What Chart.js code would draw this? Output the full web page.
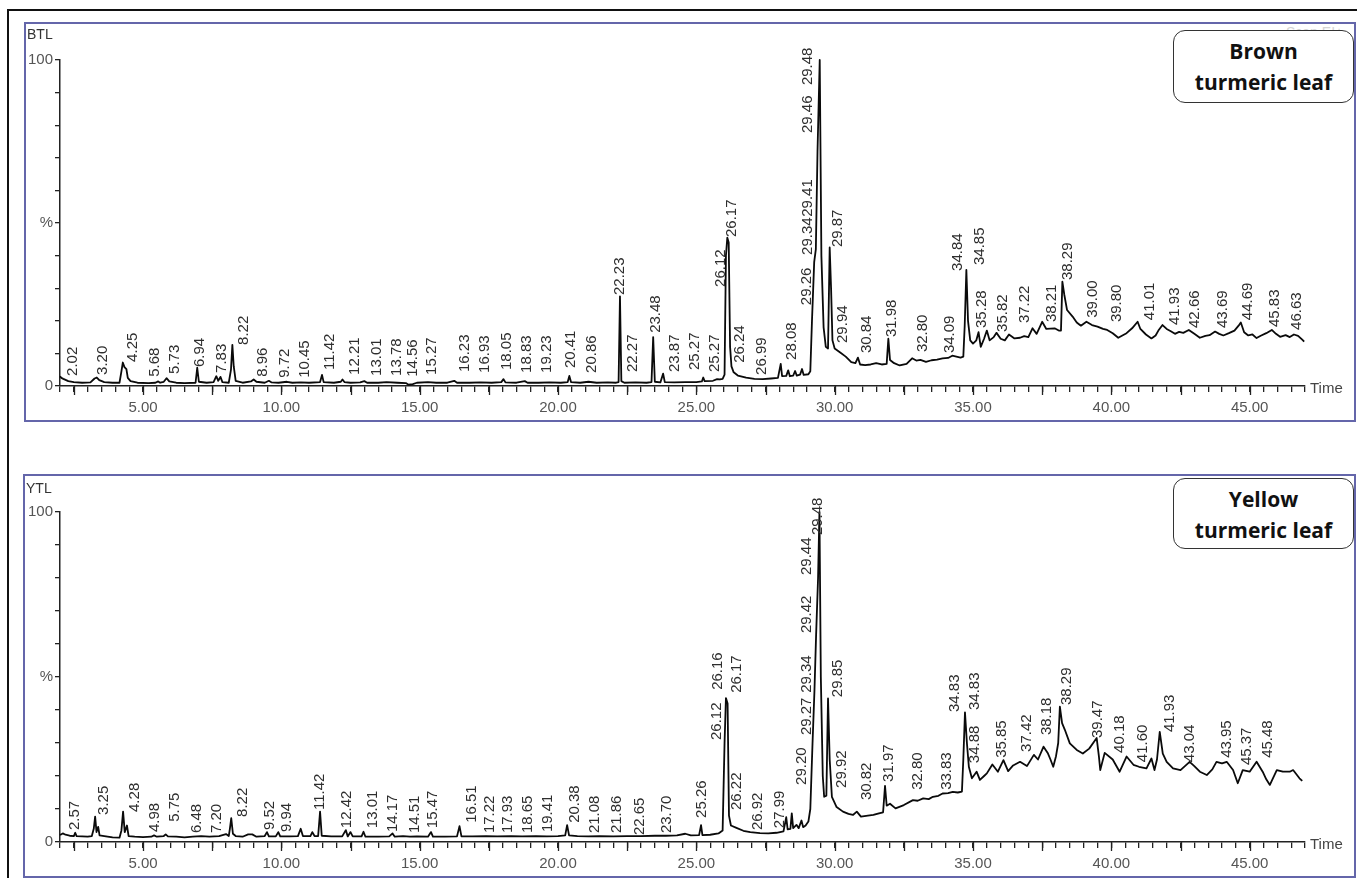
<!DOCTYPE html>
<html>
<head>
<meta charset="utf-8">
<script src="https://cdn.jsdelivr.net/npm/chart.js@4.4.1/dist/chart.umd.min.js"></script>
<style>
  html, body { margin:0; padding:0; background:#fff; }
  body { width:1357px; height:878px; position:relative; overflow:hidden; font-family:"Liberation Sans", Arial, sans-serif; }
  .frame { position:absolute; left:7px; top:9px; width:1400px; height:900px; border-left:2px solid #111; border-top:2px solid #111; }
  .panel { position:absolute; border:2px solid #6466aa; box-sizing:border-box; }
  #box1 { left:24px; top:22px; width:1332px; height:400px; }
  #box2 { left:23px; top:474px; width:1333px; height:404px; }
  canvas { position:absolute; left:0; z-index:2; }
  #c1 { top:0; }
  #c2 { top:440px; }
  .tag { position:absolute; font-size:14px; color:#333; line-height:14px; z-index:3; }
  .faint { position:absolute; font-size:14px; color:#d4d4d4; line-height:14px; }
  .time { position:absolute; font-size:15px; color:#444; line-height:15px; z-index:3; }
  .legend { position:absolute; left:1173px; width:181px; box-sizing:border-box; border:1.5px solid #333; border-radius:12px; background:#fff; font-family:"Open Sans", Lato, sans-serif; font-weight:700; font-size:21px; text-align:center; color:#111; z-index:5; padding-top:5px; }
</style>
</head>
<body>
<div class="frame"></div>
<div class="panel" id="box1"></div>
<div class="panel" id="box2"></div>
<div class="faint" style="left:1286px; top:25px;">Scan EI+</div>
<div class="tag" style="left:27px; top:27px;">BTL</div>
<div class="tag" style="left:26px; top:481px;">YTL</div>
<div class="time" style="left:1310px; top:380px;">Time</div>
<div class="time" style="left:1310px; top:836px;">Time</div>
<div class="legend" style="top:30px; height:73px; line-height:31px;">Brown<br>turmeric leaf</div>
<div class="legend" style="top:478px; height:71px; line-height:31px;">Yellow<br>turmeric leaf</div>
<canvas id="c1" width="1357" height="440"></canvas>
<canvas id="c2" width="1357" height="438"></canvas>
<script>
// ---------- axis settings ----------
const xMin = 2.0, xMax = 47.0;
const xTickLabels = ["5.00","10.00","15.00","20.00","25.00","30.00","35.00","40.00","45.00"];
const yTickValues = [0, 50, 100];
const yTickLabels = ["0", "%", "100"];

// ---------- BTL (brown turmeric leaf) trace ----------
const btlTime = [
2.00,2.05,2.12,2.30,2.50,2.80,3.10,3.25,3.33,3.42,
3.60,3.90,4.15,4.22,4.27,4.33,4.40,4.45,4.55,4.80,
5.20,5.45,5.55,5.62,5.75,5.85,5.95,6.20,6.50,6.90,
6.96,7.02,7.30,7.55,7.65,7.72,7.80,7.87,8.10,8.18,
8.23,8.28,8.35,8.60,8.90,9.00,9.10,9.40,9.55,9.65,
9.90,10.20,10.40,10.70,11.00,11.40,11.47,11.53,11.90,12.15,
12.21,12.28,12.50,12.85,13.00,13.10,13.50,13.80,14.20,14.50,
14.60,14.75,14.90,15.30,15.60,16.00,16.25,16.35,16.80,17.20,
17.60,17.95,18.03,18.10,18.50,18.80,18.90,19.30,19.70,20.10,
20.35,20.41,20.47,20.80,21.10,21.40,21.80,22.10,22.19,22.24,
22.29,22.40,22.80,23.20,23.38,23.44,23.50,23.70,23.80,23.86,
24.20,24.60,25.00,25.20,25.25,25.30,25.60,25.75,25.85,25.95,
26.02,26.07,26.12,26.17,26.22,26.27,26.35,26.50,26.80,27.10,
27.40,27.70,27.95,28.05,28.10,28.25,28.32,28.38,28.50,28.57,
28.63,28.75,28.82,28.88,29.05,29.12,29.18,29.26,29.32,29.38,
29.46,29.52,29.60,29.68,29.76,29.82,29.87,29.92,30.00,30.20,
30.40,30.60,30.75,30.84,30.92,31.10,31.30,31.50,31.70,31.88,
31.94,32.00,32.15,32.35,32.60,32.80,32.95,33.10,33.30,33.50,
33.70,33.90,34.10,34.25,34.40,34.55,34.65,34.70,34.76,34.82,
34.90,35.00,35.12,35.20,35.28,35.40,35.50,35.60,35.75,35.85,
36.00,36.15,36.30,36.50,36.70,36.85,37.00,37.15,37.30,37.50,
37.65,37.80,37.95,38.10,38.18,38.23,38.30,38.40,38.60,38.75,
38.90,39.10,39.30,39.50,39.70,39.85,40.05,40.25,40.40,40.55,
40.75,40.95,41.05,41.25,41.45,41.60,41.70,41.85,42.00,42.15,
42.30,42.45,42.60,42.80,43.00,43.20,43.40,43.55,43.75,43.90,
44.05,44.25,44.45,44.60,44.68,44.80,44.95,45.10,45.25,45.40,
45.60,45.80,45.95,46.10,46.30,46.45,46.60,46.75,46.90,46.97];
const btlSignal = [
3.0,2.5,2.2,1.5,1.2,1.0,1.1,2.3,2.6,1.8,
1.2,1.0,1.0,4.5,7.2,5.8,5.2,2.5,1.5,1.0,
0.9,1.0,1.4,1.0,1.3,2.4,1.4,1.0,0.9,1.0,
5.6,1.3,1.0,1.2,3.0,1.6,2.8,1.2,1.0,5.0,
12.6,6.0,1.6,1.0,1.4,2.0,1.3,1.0,1.6,1.1,
1.0,1.3,1.0,1.1,1.0,1.2,3.4,1.2,1.0,1.3,
2.0,1.2,1.0,1.1,1.5,1.0,1.0,1.2,1.0,0.9,
0.4,0.6,1.0,1.2,1.0,1.0,1.6,1.0,1.0,1.1,
1.0,1.2,2.1,1.1,1.0,1.5,1.0,1.0,1.1,1.0,
1.2,3.1,1.2,1.0,1.3,1.0,1.1,1.0,1.2,27.5,
1.5,1.0,1.1,1.0,1.2,15.0,1.3,1.1,3.8,1.2,
1.1,1.2,1.2,1.4,2.6,1.5,1.6,2.1,2.0,2.2,
3.5,40,45.5,44,12,6.0,4.2,3.2,2.6,2.2,
2.1,2.3,2.5,6.8,3.0,3.1,4.8,3.0,3.2,4.6,
3.2,3.5,5.2,3.4,3.6,4.5,20,38,42,72,
100,40,18,12,11.5,42.5,30,14,11.5,10.3,
9.0,7.3,7.0,8.7,6.6,6.4,6.6,7.0,6.6,6.8,
14.5,8.0,7.0,6.3,6.8,8.5,7.8,8.0,7.4,7.9,
8.1,8.5,8.6,9.3,9.0,8.7,9.0,18.5,35.6,20,
14.0,13.0,14.0,16.5,12.0,14.5,17.0,14.0,15.0,16.3,
14.5,14.0,15.8,14.6,14.8,15.3,15.0,17.7,16.0,19.7,
17.5,17.6,17.7,17.0,17.0,32,28,23.3,21.3,19.5,
18.5,19.7,18.7,18.2,17.5,17.2,16.2,14.8,15.5,16.2,
17.7,19.7,17.5,15.8,14.6,15.5,17.0,18.7,17.5,16.8,
16.0,16.6,16.3,17.2,16.0,14.8,15.4,15.6,16.7,16.0,
15.5,16.2,17.0,18.5,19.5,16.5,15.5,15.8,14.7,15.4,
16.2,17.2,16.0,15.1,15.6,15.0,15.8,15.4,14.2,13.6];

const btlPeakText = [
"2.02","3.20","4.25","5.68","5.73","6.94","7.83","8.22","8.96","9.72",
"10.45","11.42","12.21","13.01","13.78","14.56","15.27","16.23","16.93","18.05",
"18.83","19.23","20.41","20.86","22.23","22.27","23.48","23.87","25.27","25.27",
"26.12","26.17","26.24","26.99","28.08","29.26","29.34","29.41","29.46","29.48",
"29.87","29.94","30.84","31.98","32.80","34.09","34.84","34.85","35.28","35.82",
"37.22","38.21","38.29","39.00","39.80","41.01","41.93","42.66","43.69","44.69",
"45.83","46.63"];
const btlPeakTime = [
2.48,3.56,4.64,5.44,6.16,7.06,7.86,8.65,9.34,10.14,
10.86,11.76,12.66,13.46,14.18,14.76,15.45,16.64,17.36,18.16,
18.88,19.60,20.47,21.23,22.24,22.71,23.54,24.23,24.95,25.67,
25.87,26.29,26.58,27.37,28.45,29.00,29.04,29.04,29.04,29.04,
30.12,30.30,31.17,32.07,33.19,34.16,34.46,35.25,35.32,36.08,
36.87,37.85,38.43,39.33,40.20,41.39,42.30,43.02,44.03,44.93,
45.91,46.70];
const btlPeakLevel = [
3.1,3.4,7.4,2.8,3.7,5.8,4.0,12.6,2.8,2.5,
2.5,4.9,3.4,3.1,3.1,2.8,3.4,4.3,4.0,4.9,
4.0,4.0,5.5,4.0,27.9,4.3,16.3,4.3,4.9,4.3,
30.4,45.7,7.1,3.4,8.0,24.8,40.2,51.9,77.6,92.3,
42.6,13.2,10.1,15.0,10.4,10.1,35.3,37.1,17.8,16.6,
19.3,19.6,32.5,20.9,19.6,20.2,18.7,17.8,17.8,20.2,
18.1,17.2];

// ---------- YTL (yellow turmeric leaf) trace ----------
const ytlTime = [
2.00,2.10,2.20,2.35,2.50,2.55,2.60,2.80,3.00,3.15,
3.22,3.27,3.32,3.38,3.43,3.60,3.90,4.15,4.22,4.28,
4.34,4.42,4.48,4.70,5.00,5.30,5.40,5.50,5.75,5.82,
5.90,6.20,6.50,6.80,7.10,7.40,7.75,8.00,8.10,8.14,
8.19,8.25,8.35,8.60,8.80,8.95,9.10,9.40,9.48,9.55,
9.80,9.89,9.96,10.30,10.60,10.70,10.78,11.05,11.12,11.20,
11.33,11.40,11.46,11.80,12.20,12.33,12.40,12.50,12.58,12.90,
12.97,13.04,13.50,13.90,14.02,14.10,14.40,14.65,14.90,15.30,
15.41,15.48,15.90,16.35,16.44,16.51,16.90,17.40,17.80,18.30,
18.70,19.20,19.60,20.00,20.26,20.33,20.40,20.70,21.10,21.50,
22.00,22.50,23.00,23.50,23.90,24.30,24.60,24.80,25.10,25.17,
25.22,25.50,25.80,25.95,26.02,26.07,26.13,26.18,26.25,26.45,
26.70,26.95,27.30,27.60,27.90,28.15,28.25,28.30,28.40,28.45,
28.50,28.62,28.70,28.80,28.86,28.95,29.05,29.12,29.20,29.27,
29.33,29.40,29.45,29.50,29.57,29.62,29.70,29.76,29.82,29.90,
30.07,30.30,30.50,30.66,30.80,30.95,31.20,31.40,31.60,31.75,
31.82,31.88,32.00,32.20,32.50,32.83,33.00,33.20,33.40,33.55,
33.75,33.90,34.10,34.27,34.45,34.60,34.65,34.71,34.78,34.85,
34.96,35.13,35.25,35.40,35.50,35.70,35.90,36.10,36.27,36.45,
36.70,36.95,37.20,37.35,37.55,37.70,37.80,37.90,38.00,38.08,
38.14,38.22,38.32,38.50,38.75,38.97,39.20,39.47,39.55,39.60,
39.76,40.05,40.30,40.55,40.80,41.00,41.27,41.45,41.56,41.65,
41.75,41.86,42.00,42.23,42.50,42.83,43.00,43.20,43.45,43.65,
43.80,44.00,44.17,44.40,44.57,44.75,45.00,45.25,45.47,45.60,
45.73,45.98,46.20,46.45,46.57,46.80,46.90];
const ytlSignal = [
2.1,2.6,2.2,1.9,1.8,2.8,1.8,1.7,1.6,1.8,
4.0,7.7,3.0,4.6,2.0,1.8,1.4,1.3,3.5,9.2,
3.0,5.0,1.8,1.6,1.5,1.6,2.0,1.6,1.8,2.3,
1.7,1.6,1.4,1.6,1.8,1.6,1.8,2.4,1.8,4.0,
7.2,2.5,1.8,1.6,2.3,2.3,1.6,1.8,3.0,1.7,
1.7,3.0,1.7,1.7,1.8,4.0,1.8,1.8,3.0,1.8,
1.8,9.2,1.9,1.7,1.7,3.6,1.7,3.0,1.7,1.7,
3.1,1.6,1.6,1.7,2.6,1.6,1.8,1.6,1.7,1.6,
3.0,1.6,1.6,1.7,4.8,1.7,1.7,1.8,1.7,1.8,
1.7,1.8,1.7,1.8,2.0,5.1,2.0,1.8,1.7,1.8,
1.7,1.8,1.8,1.9,1.9,2.0,2.5,2.0,2.1,5.1,
2.1,2.2,2.6,3.5,30,43.6,42,8,5.0,4.3,
3.4,3.0,2.7,2.6,2.8,3.2,7.5,3.8,4.0,8.7,
4.2,5.2,4.2,6.5,4.5,5.0,6.2,10,30,46,
63,80,100,50,20,13.7,14,43.5,25,13.7,
10.6,9.2,8.5,8.2,9.2,7.7,8.0,8.2,8.7,9.0,
17.0,11.0,11.6,10.2,11.2,12.7,12.5,13.2,13.0,13.7,
14.0,14.7,14.8,15.2,15.0,15.3,25,39.3,30,22.8,
19.3,21.3,18.8,20.0,20.8,23.5,21.3,24.8,21.5,23.2,
24.3,23.0,26.4,25.0,28.9,27.0,25.0,22.8,26.0,30,
41.0,36,34.0,29.9,27.9,26.8,28.3,31.5,26,21.8,
27,25,21.3,25.9,23.4,22.8,22.3,25.3,21.8,25,
33.4,26.8,24.3,22.3,21.8,24.3,23.0,21.3,20.3,22.0,
24.3,23.8,24.3,21.8,17.8,21.8,21.3,24.3,21.3,19.0,
17.3,21.8,21.3,21.3,21.8,19.3,18.5];

const ytlPeakText = [
"2.57","3.25","4.28","4.98","5.75","6.48","7.20","8.22","9.52","9.94",
"11.42","12.42","13.01","14.17","14.51","15.47","16.51","17.22","17.93","18.65",
"19.41","20.38","21.08","21.86","22.65","23.70","25.26","26.12","26.16","26.17",
"26.22","26.92","27.99","29.20","29.27","29.34","29.42","29.44","29.48","29.85",
"29.92","30.82","31.97","32.80","33.83","34.83","34.88","34.83","35.85","37.42",
"38.18","38.29","39.47","40.18","41.60","41.93","43.04","43.95","45.37","45.48"];
const ytlPeakTime = [
2.54,3.59,4.71,5.43,6.16,6.95,7.67,8.61,9.59,10.20,
11.40,12.37,13.31,14.04,14.83,15.48,16.89,17.54,18.19,18.92,
19.64,20.61,21.34,22.13,22.96,23.94,25.20,25.75,25.78,26.47,
26.47,27.23,28.02,28.82,29.00,29.00,29.00,29.00,29.40,30.12,
30.26,31.17,31.96,33.01,34.06,34.35,35.07,35.07,36.05,36.95,
37.67,38.40,39.52,40.31,41.14,42.12,42.84,44.18,44.90,45.66];
const ytlPeakLevel = [
3.6,8.2,9.1,3.0,6.1,2.7,2.7,7.6,3.6,3.0,
9.7,4.2,4.2,3.0,2.7,4.2,5.8,2.7,2.7,2.7,
3.0,5.8,2.7,2.7,2.1,2.7,7.3,30.9,46.1,45.2,
9.7,3.6,4.2,17.3,32.4,45.2,63.3,80.9,93.0,43.9,
16.4,12.7,18.2,15.8,15.8,39.4,23.9,40.0,25.5,27.3,
32.4,41.5,31.5,27.0,24.2,33.3,24.2,25.5,23.3,25.5];

// ---------- helpers ----------
const FONT = '"Liberation Sans", Arial, sans-serif';

function xTickLabel(v) {
  for (const s of xTickLabels) { if (Math.abs(parseFloat(s) - v) < 1e-6) return s; }
  return '';
}
function yTickLabel(v) {
  const i = yTickValues.findIndex(t => Math.abs(t - v) < 1e-6);
  return i >= 0 ? yTickLabels[i] : '';
}

function makeLabelPlugin(text, time, level) {
  return {
    id: 'peakLabels',
    afterDatasetsDraw(chart) {
      const xs = chart.scales.x, ys = chart.scales.y, ctx = chart.ctx;
      ctx.save();
      ctx.fillStyle = '#2e2e2e';
      ctx.font = '15px ' + FONT;
      ctx.textAlign = 'left';
      ctx.textBaseline = 'middle';
      text.forEach((s, i) => {
        const px = xs.getPixelForValue(time[i]);
        const py = ys.getPixelForValue(level[i]);
        ctx.save();
        ctx.translate(px, py);
        ctx.rotate(-Math.PI / 2);
        ctx.fillText(s, 0, 0);
        ctx.restore();
      });
      ctx.restore();
    }
  };
}

const majorTickPlugin = {
  id: 'majorTicks',
  afterDraw(chart) {
    const xs = chart.scales.x, ctx = chart.ctx, b = chart.chartArea.bottom;
    ctx.save();
    ctx.strokeStyle = '#222';
    ctx.lineWidth = 1.3;
    for (let v = 2.5; v <= xMax; v += 2.5) {
      const px = Math.round(xs.getPixelForValue(v)) + 0.5;
      ctx.beginPath(); ctx.moveTo(px, b); ctx.lineTo(px, b + 9); ctx.stroke();
    }
    ctx.restore();
  }
};

function makeChart(id, times, signal, lt, ltime, llevel, padTop, padBottom) {
  const pts = times.map((t, i) => ({ x: t, y: signal[i] }));
  return new Chart(document.getElementById(id), {
    type: 'line',
    data: { datasets: [{ data: pts, borderColor: '#0a0a0a', borderWidth: 1.8, pointRadius: 0, tension: 0, fill: false, clip: false, borderJoinStyle: 'round' }] },
    options: {
      responsive: false, animation: false, devicePixelRatio: 1,
      layout: { padding: { left: 10, right: 52, top: padTop, bottom: padBottom } },
      plugins: { legend: { display: false }, tooltip: { enabled: false } },
      scales: {
        x: {
          type: 'linear', min: xMin, max: xMax,
          afterFit: s => { s.height = 30; },
          border: { display: true, color: '#222', width: 1.5 },
          grid: { display: true, drawOnChartArea: false, drawTicks: true, tickLength: 6, color: '#222', lineWidth: 1.3 },
          ticks: { stepSize: 0.5, autoSkip: false, maxRotation: 0, minRotation: 0, padding: 7, color: '#555',
                   font: { size: 15, family: FONT }, callback: v => xTickLabel(v) }
        },
        y: {
          type: 'linear', min: 0, max: 100,
          afterFit: s => { s.width = 50; },
          border: { display: true, color: '#222', width: 1.5 },
          grid: { display: true, drawOnChartArea: false, drawTicks: true, tickLength: 5, color: '#222', lineWidth: 1.3 },
          ticks: { stepSize: 10, padding: 2, color: '#555', font: { size: 15, family: FONT }, callback: v => yTickLabel(v) }
        }
      }
    },
    plugins: [makeLabelPlugin(lt, ltime, llevel), majorTickPlugin]
  });
}

makeChart('c1', btlTime, btlSignal, btlPeakText, btlPeakTime, btlPeakLevel, 60, 24);
makeChart('c2', ytlTime, ytlSignal, ytlPeakText, ytlPeakTime, ytlPeakLevel, 72, 6);
</script>
</body>
</html>
